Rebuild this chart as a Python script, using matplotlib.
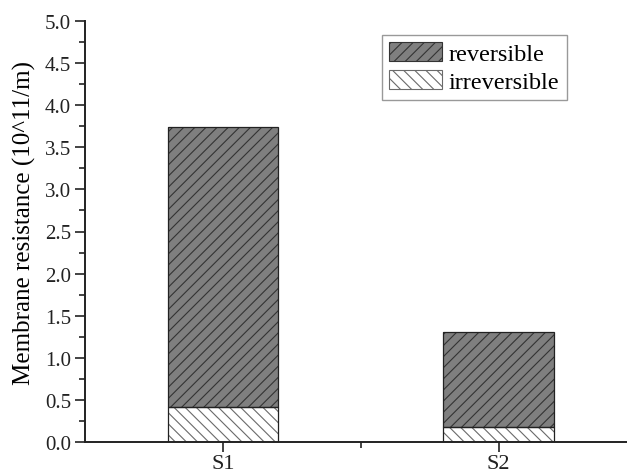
import matplotlib
matplotlib.use("Agg")
import matplotlib.pyplot as plt
from matplotlib.patches import Patch
from matplotlib.ticker import MultipleLocator, FixedLocator

categories = ["S1", "S2"]
irreversible = [0.41, 0.18]
reversible = [3.33, 1.13]   # stacked on top of irreversible (totals 3.74, 1.31)
yticks = [0.0, 0.5, 1.0, 1.5, 2.0, 2.5, 3.0, 3.5, 4.0, 4.5, 5.0]

plt.rcParams['font.family'] = ['Liberation Serif', 'DejaVu Serif']
plt.rcParams['hatch.linewidth'] = 0.8

fig = plt.figure(figsize=(6.27, 4.77), dpi=100)
ax = fig.add_axes([85/627, 34/477, (636.5-85)/627, (443-22)/477])

x = [1, 2]
w = 0.4
rev_face, rev_hatch = '#7f7f7f', '#333333'
irr_face, irr_hatch = 'white', '#6a6a6a'

# hatched fills
ax.bar(x, irreversible, w, color=irr_face, edgecolor=irr_hatch, hatch='\\\\\\', linewidth=0)
ax.bar(x, reversible, w, bottom=irreversible, color=rev_face, edgecolor=rev_hatch, hatch='///', linewidth=0)
# outlines
ax.bar(x, irreversible, w, fill=False, edgecolor='#222222', linewidth=0.9)
ax.bar(x, reversible, w, bottom=irreversible, fill=False, edgecolor='#222222', linewidth=0.9)

ax.set_xlim(0.5, 2.5)
ax.set_ylim(0, 5.0)
ax.set_xticks(x)
ax.set_xticklabels(categories, fontsize=16)
ax.xaxis.set_minor_locator(FixedLocator([1.5]))
ax.set_yticks(yticks)
ax.set_yticklabels([f"{v:.1f}" for v in yticks], fontsize=15)
ax.yaxis.set_minor_locator(MultipleLocator(0.25))
ax.tick_params(which='major', direction='out', length=7, width=1.2, colors='#222222', pad=3)
ax.tick_params(which='minor', direction='out', length=4, width=1.2, colors='#222222')
ax.tick_params(axis='x', which='major', pad=2)
for s in ('left', 'bottom'):
    ax.spines[s].set_linewidth(1.4)
    ax.spines[s].set_color('#222222')
ax.spines['top'].set_visible(False)
ax.spines['right'].set_visible(False)
ax.set_ylabel("Membrane resistance (10^11/m)", fontsize=18)
ax.yaxis.set_label_coords((36-85)/551.5, (443-223)/421)

handles = [Patch(facecolor=rev_face, edgecolor=rev_hatch, hatch='///', linewidth=0.8, label='reversible'),
           Patch(facecolor=irr_face, edgecolor=irr_hatch, hatch='\\\\\\', linewidth=0.8, label='irreversible')]
leg = ax.legend(handles=handles, loc='upper left', bbox_to_anchor=((382-85)/551.5, (443-36)/421),
                fontsize=17.5, frameon=True, fancybox=False, edgecolor='#808080',
                handlelength=2.15, handleheight=0.8, borderpad=0.3, labelspacing=0.22,
                handletextpad=0.3, borderaxespad=0)
leg.get_frame().set_linewidth(1.0)

fig.savefig("out.png", dpi=100)
